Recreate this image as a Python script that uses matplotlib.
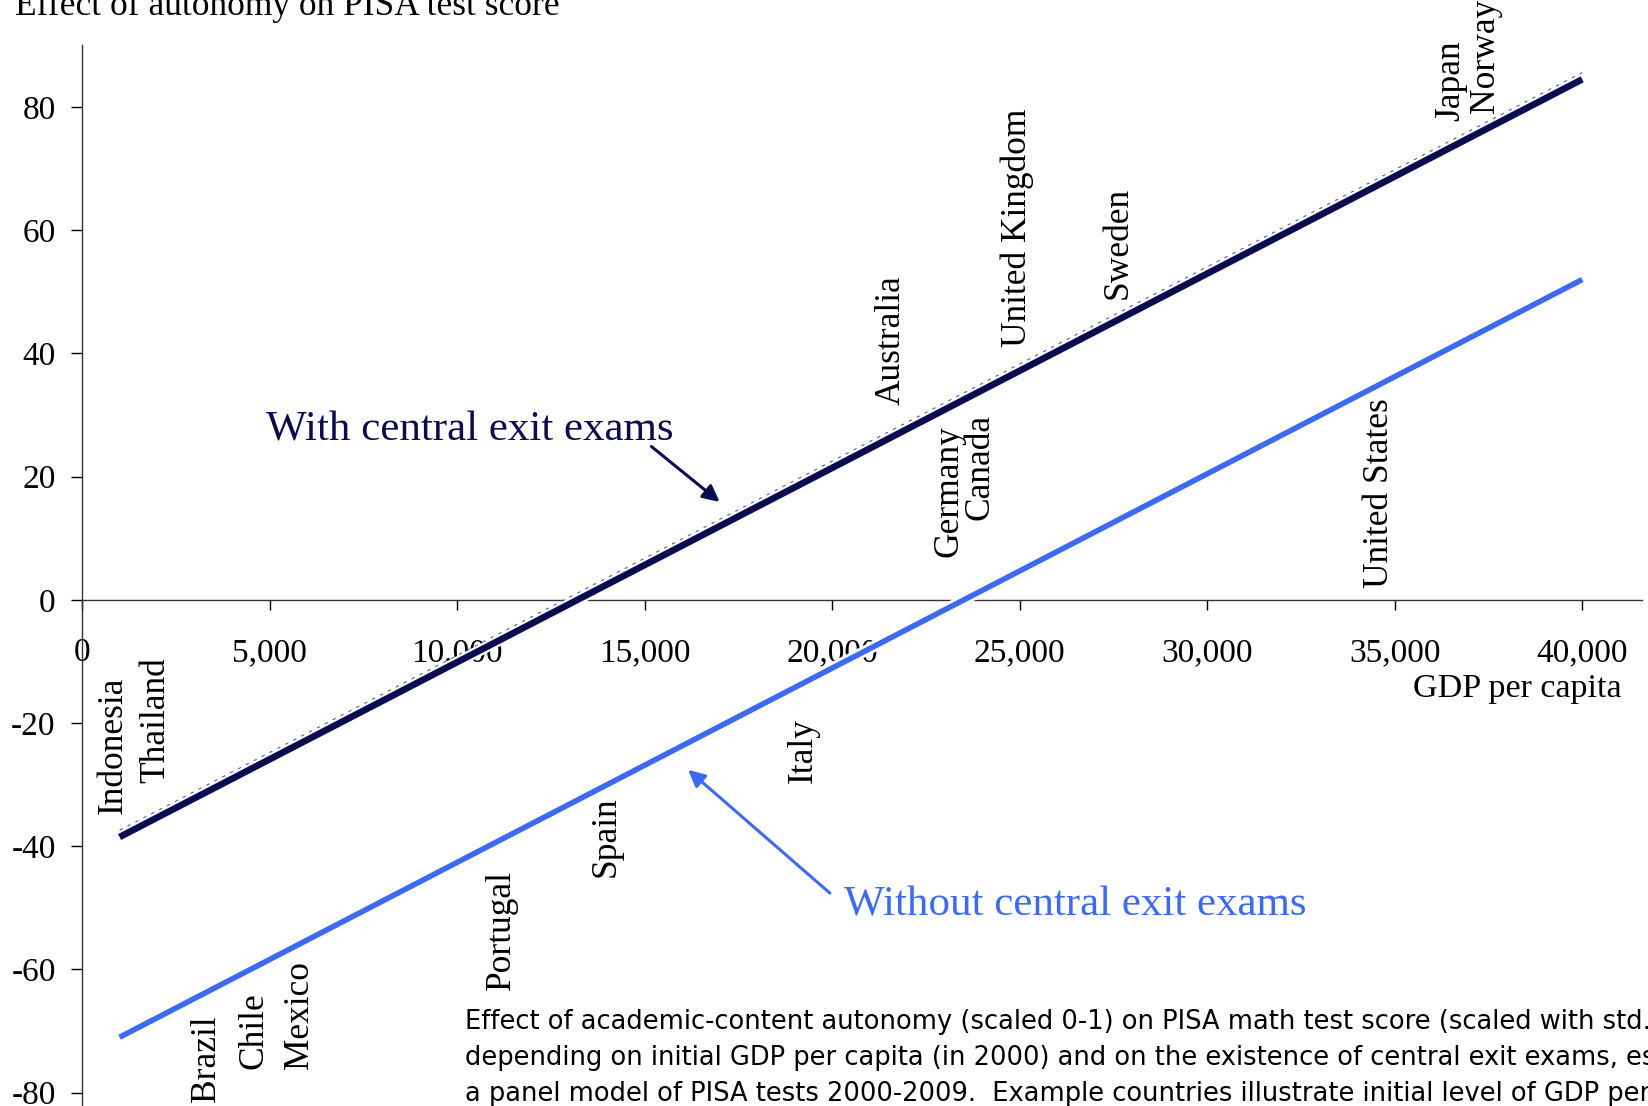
import numpy as np
import matplotlib
matplotlib.use("Agg")
import matplotlib.pyplot as plt
import matplotlib.patheffects as pe

plt.rcParams['font.family'] = ['Liberation Serif', 'DejaVu Serif']
plt.rcParams['axes.unicode_minus'] = False

# fitted lines (effect of autonomy vs initial GDP per capita)
gdp_range = [1000, 40000]
with_exams = [-38.5, 84.5]
without_exams = [-71.0, 52.0]

# example countries and their initial GDP per capita
countries = ['Indonesia', 'Thailand', 'Brazil', 'Chile', 'Mexico', 'Portugal',
             'Spain', 'Italy', 'Australia', 'Germany', 'Canada', 'United Kingdom',
             'Sweden', 'United States', 'Japan', 'Norway']
country_gdp = [840, 1960, 3330, 4590, 5800, 11180, 13980, 19220, 21570,
               23110, 23950, 24930, 27620, 34590, 36500, 37420]
label_y = [-34.8, -29.7, -81.5, -76.1, -76.1, -63.3, -45.0, -29.7, 31.7,
           7.0, 13.0, 41.1, 48.8, 1.9, 77.8, 79.1]

x_ticks = [0, 5000, 10000, 15000, 20000, 25000, 30000, 35000, 40000]
y_ticks = [-80, -60, -40, -20, 0, 20, 40, 60, 80]

navy = '#0b0b4f'
blue = '#3d6af2'

fig = plt.figure(figsize=(16.48, 11.06), dpi=100)
ax = fig.add_axes([0.0498, 0.0009, 0.9467, 0.958])
ax.set_xlim(0, 41600)
ax.set_ylim(-82, 90)

halo = [pe.Stroke(linewidth=8, foreground='white'), pe.Normal()]
ax.plot(gdp_range, with_exams, color=navy, lw=4.8, zorder=4,
        solid_capstyle='butt', path_effects=halo)
ax.plot(gdp_range, np.array(with_exams) + 1.1, color='#4a5ad8', lw=0.8,
        ls=(0, (3, 5)), zorder=5)
ax.plot(gdp_range, without_exams, color=blue, lw=4.0, zorder=4,
        solid_capstyle='butt', path_effects=halo)

# axes through the origin
ax.spines['left'].set_position(('data', 0))
ax.spines['bottom'].set_position(('data', 0))
ax.spines['top'].set_visible(False)
ax.spines['right'].set_visible(False)
for s in ['left', 'bottom']:
    ax.spines[s].set_linewidth(1.0)
    ax.spines[s].set_color('#333333')

ax.set_xticks(x_ticks)
ax.set_xticklabels([f'{v:,}' for v in x_ticks])
ax.set_yticks(y_ticks)
ax.set_yticklabels([str(v) for v in y_ticks])
ax.tick_params(axis='x', direction='out', length=7, width=1, pad=20, labelsize=24)
ax.tick_params(axis='y', direction='out', length=8, width=1, pad=11, labelsize=24)

for name, x, y in zip(countries, country_gdp, label_y):
    ax.text(x, y, name, rotation=90, ha='center', va='bottom', fontsize=25.5,
            zorder=5)

ax.text(35490, -14.5, 'GDP per capita', ha='left', va='center', fontsize=24.5)

ax.text(4900, 27.6, 'With central exit exams', color=navy, fontsize=31,
        ha='left', va='center')
ax.annotate('', xy=(17000, 15.9), xytext=(15180, 24.9),
            arrowprops=dict(arrowstyle='-|>', color=navy, lw=2.2,
                            mutation_scale=25, shrinkA=0, shrinkB=0))

ax.text(20310, -49.6, 'Without central exit exams', color=blue, fontsize=31,
        ha='left', va='center')
ax.annotate('', xy=(16160, -27.6), xytext=(19940, -47.6),
            arrowprops=dict(arrowstyle='-|>', color=blue, lw=2.2,
                            mutation_scale=25, shrinkA=0, shrinkB=0))

fig.text(0.009, 0.9864, 'Effect of autonomy on PISA test score', fontsize=25.5,
         ha='left', va='baseline')

caption = [
    'Effect of academic-content autonomy (scaled 0-1) on PISA math test score (scaled with std. dev. 100)',
    'depending on initial GDP per capita (in 2000) and on the existence of central exit exams, estimated in',
    'a panel model of PISA tests 2000-2009.  Example countries illustrate initial level of GDP per capita.',
]
for i, line in enumerate(caption):
    fig.text(0.282, 0.0696 - i * 0.0325, line, fontsize=18.5,
             family='DejaVu Sans', ha='left', va='baseline')

fig.savefig('out.png', dpi=100)
